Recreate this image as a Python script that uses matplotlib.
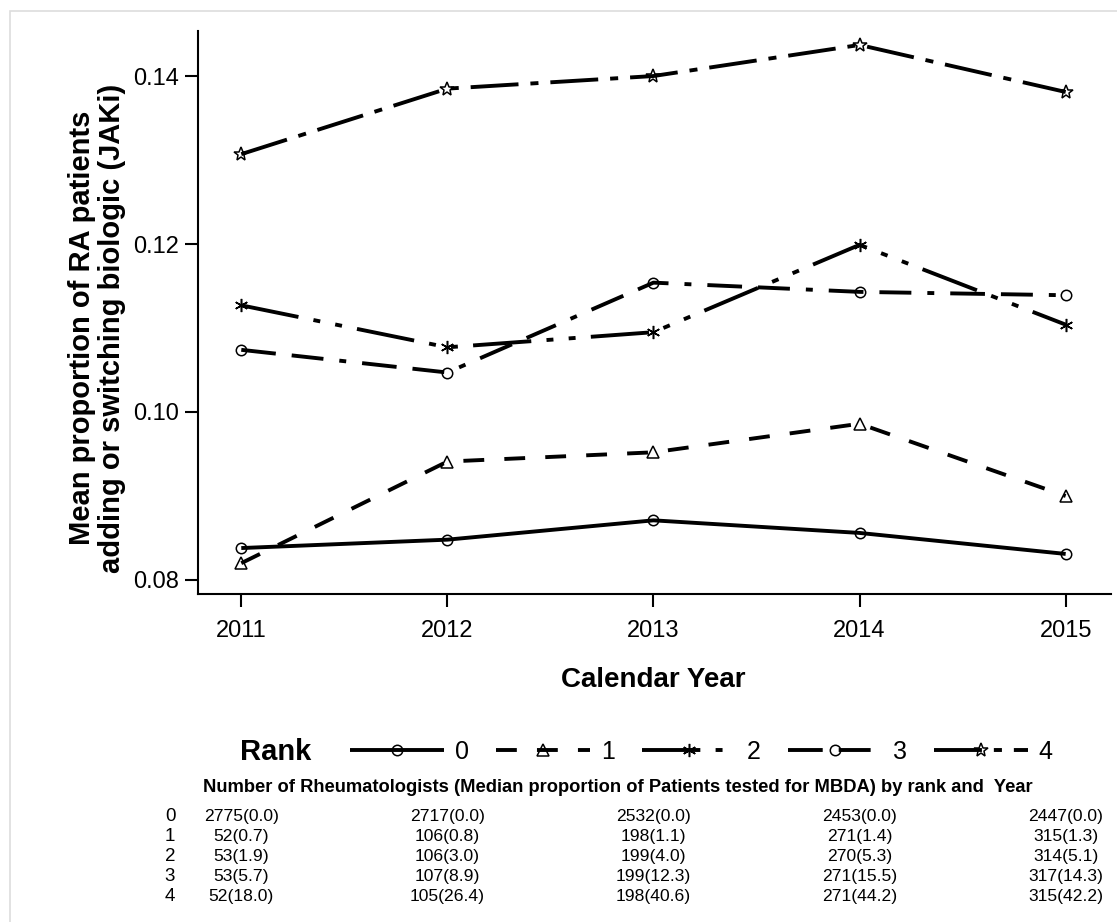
import matplotlib
matplotlib.use("Agg")
import matplotlib.pyplot as plt
from matplotlib import font_manager
from matplotlib.patches import Rectangle

# mean proportion adding/switching biologic, by rank of MBDA testing
years = [2011, 2012, 2013, 2014, 2015]
rank0 = [0.0838, 0.0848, 0.0871, 0.0856, 0.0831]
rank1 = [0.0820, 0.0941, 0.0952, 0.0986, 0.0900]
rank2 = [0.1127, 0.1077, 0.1095, 0.1199, 0.1104]
rank3 = [0.1074, 0.1047, 0.1154, 0.1143, 0.1139]
rank4 = [0.1307, 0.1385, 0.1400, 0.1437, 0.1381]
rank_labels = ["0", "1", "2", "3", "4"]
yticks = [0.08, 0.10, 0.12, 0.14]

# table under the plot: number of rheumatologists (median % tested)
n_docs = [
    [2775, 2717, 2532, 2453, 2447],
    [52, 106, 198, 271, 315],
    [53, 106, 199, 270, 314],
    [53, 107, 199, 271, 317],
    [52, 105, 198, 271, 315],
]
med_tested = [
    [0.0, 0.0, 0.0, 0.0, 0.0],
    [0.7, 0.8, 1.1, 1.4, 1.3],
    [1.9, 3.0, 4.0, 5.3, 5.1],
    [5.7, 8.9, 12.3, 15.5, 14.3],
    [18.0, 26.4, 40.6, 44.2, 42.2],
]

names = {f.name for f in font_manager.fontManager.ttflist}
base = "Liberation Sans" if "Liberation Sans" in names else "DejaVu Sans"
narrow = "Liberation Sans Narrow" if "Liberation Sans Narrow" in names else base
plt.rcParams["font.family"] = [base, "DejaVu Sans"]
plt.rcParams["lines.scale_dashes"] = False

W, H = 1117, 922
fig = plt.figure(figsize=(W / 100, H / 100), dpi=100)
ax = fig.add_axes([198 / W, 1 - 594 / H, (1111 - 198) / W, (594 - 31) / H])

series = [rank0, rank1, rank2, rank3, rank4]
markers = ["o", "^", (6, 2, 0), "o", "*"]
msizes = [7.5, 8.5, 9.5, 7.5, 10]
dashes = [
    None,
    (0, (15, 14.5)),
    (0, (42, 11, 5, 11, 5, 11)),
    (0, (25, 11.5, 23, 11.5, 5, 11.5)),
    (0, (34.5, 8.6, 5.8, 8.6)),
]
handles = []
for ys, m, ms, ls in zip(series, markers, msizes, dashes):
    ln, = ax.plot(years, ys, color="black", lw=2.8,
                  linestyle="-" if ls is None else ls,
                  dash_capstyle="butt", solid_capstyle="butt",
                  marker=m, ms=ms, mfc="none", mec="black", mew=1.1)
    handles.append(ln)

ax.set_xlim(2010.79, 2015.22)
ax.set_ylim(0.07833, 0.14536)
ax.set_xticks(years)
ax.set_yticks(yticks)
ax.set_yticklabels(["%.2f" % v for v in yticks])
ax.tick_params(length=9.5, width=1.5, labelsize=17, pad=4)
ax.tick_params(axis="x", pad=9)
for s in ["top", "right"]:
    ax.spines[s].set_visible(False)
for s in ["left", "bottom"]:
    ax.spines[s].set_linewidth(1.5)

fig.text(97 / W, 1 - 328 / H,
         "Mean proportion of RA patients\nadding or switching biologic (JAKi)",
         rotation=90, ha="center", va="center", fontsize=21,
         fontweight="bold", linespacing=1.05)
fig.text(653 / W, 1 - 680 / H, "Calendar Year", ha="center", va="center",
         fontsize=20, fontweight="bold")

# legend row
fig.text(276 / W, 1 - 752 / H, "Rank", ha="center", va="center",
         fontsize=21, fontweight="bold", family=[narrow, base])
F = 18 / 0.72
fig.legend(handles, rank_labels, ncol=5, frameon=False,
           loc="center left", bbox_to_anchor=(352 / W - 0.002, 1 - 752 / H),
           prop={"family": [narrow, base], "size": 18},
           handlelength=94 / F, handletextpad=11 / F, columnspacing=27 / F,
           numpoints=1, borderpad=0, borderaxespad=0)

# table
fig.text(618 / W, 1 - 787 / H,
         "Number of Rheumatologists (Median proportion of Patients tested for MBDA) by rank and  Year",
         ha="center", va="center", fontsize=13.2, fontweight="bold",
         family=[narrow, base])
trans = matplotlib.transforms.blended_transform_factory(ax.transData, fig.transFigure)
for i, lab in enumerate(rank_labels):
    yy = 1 - (816 + 20 * i) / H
    fig.text(170 / W, yy, lab, ha="center", va="center", fontsize=13.5)
    for j, yr in enumerate(years):
        ax.text(yr, yy, "%d(%.1f)" % (n_docs[i][j], med_tested[i][j]),
                transform=trans, ha="center", va="center", fontsize=12.6,
                clip_on=False)

# faint outer frame
fig.patches.append(Rectangle((10 / W, -0.1), 1.2, 1 - 11 / H + 0.1,
                             transform=fig.transFigure, fill=False,
                             edgecolor="#dddddd", lw=1.2))

fig.savefig("out.png", dpi=100)
